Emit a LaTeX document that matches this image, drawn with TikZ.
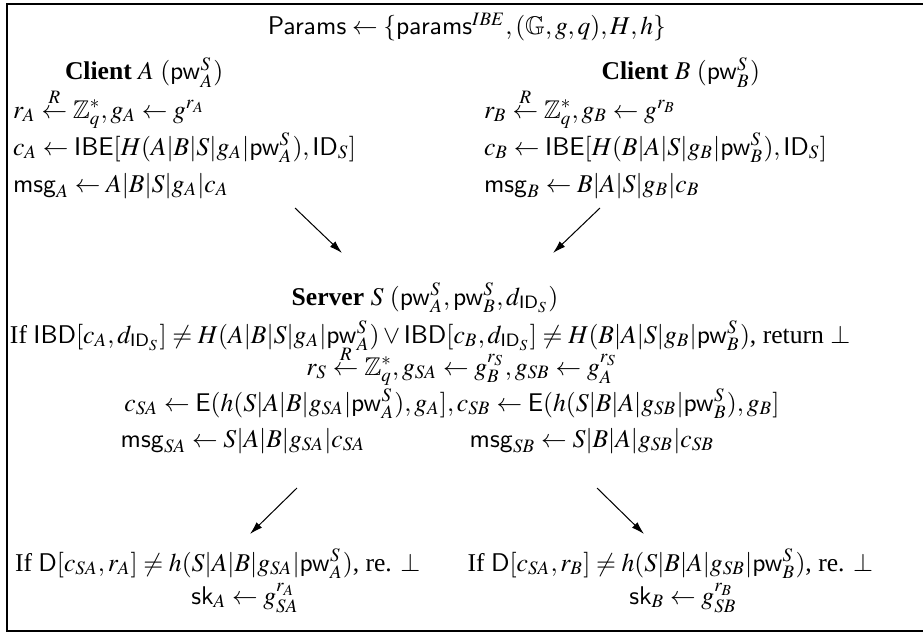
\documentclass[tikz,border=0pt]{standalone}
\usepackage{amsmath}
\usepackage{mathptmx}
\usepackage{amssymb}
\usepackage[scaled=0.92]{helvet}
\usepackage[no-math]{fontspec}
\setmainfont{Liberation Serif}
\usetikzlibrary{arrows.meta}
\newcommand{\mypw}{\mathsf{pw}}
\newcommand{\mymsg}{\mathsf{msg}}
\newcommand{\myID}{\mathsf{ID}}
\newcommand{\rgets}{\stackrel{R}{\leftarrow}}
\tikzset{
  txt/.style={inner sep=0pt, outer sep=0pt, font=\fontsize{10}{12}\selectfont},
  lw/.style={txt, anchor=base west},
  lc/.style={txt, anchor=base},
  le/.style={txt, anchor=base east},
  flow/.style={-{Latex[length=5pt,width=3pt]}, line width=0.4pt},
  frame/.style={line width=1.1pt}
}
\begin{document}
\begin{tikzpicture}[x=0.3906pt, y=-0.3906pt]
\useasboundingbox (0,0) rectangle (923,635);
\begin{scope}
\clip (0,0) rectangle (923,635);
\draw[frame] (7,4) rectangle (940,631);
\end{scope}
% header
\node[lc] (params) at (467,35) {$\mathsf{Params} \leftarrow \{\mathsf{params}^{IBE}, (\mathbb{G}, g, q), H, h\}$};
% client A
\node[lw] (cla) at (65,80) {\textbf{Client} $A$ $(\mypw_A^S)$};
\node[lw] (ra) at (13,118) {$r_A \rgets \mathbb{Z}_q^*, g_A \leftarrow g^{r_A}$};
\node[lw] (ca) at (13,155) {$c_A \leftarrow \mathsf{IBE}[H(A|B|S|g_A|\mypw_A^S), \myID_S]$};
\node[lw] (ma) at (13,192) {$\mymsg_A \leftarrow A|B|S|g_A|c_A$};
% client B
\node[le] (clb) at (760,80) {\textbf{Client} $B$ $(\mypw_B^S)$};
\node[lw] (rb) at (484,118) {$r_B \rgets \mathbb{Z}_q^*, g_B \leftarrow g^{r_B}$};
\node[lw] (cb) at (484,155) {$c_B \leftarrow \mathsf{IBE}[H(B|A|S|g_B|\mypw_B^S), \myID_S]$};
\node[lw] (mb) at (484,192) {$\mymsg_B \leftarrow B|A|S|g_B|c_B$};
% server
\node[lc] (srv) at (425,305) {\textbf{Server} $S$ $(\mypw_A^S, \mypw_B^S, d_{\myID_S})$};
\node[lw] (ibd) at (10,343) {If $\mathsf{IBD}[c_A, d_{\myID_S}] \neq H(A|B|S|g_A|\mypw_A^S) \vee \mathsf{IBD}[c_B, d_{\myID_S}] \neq H(B|A|S|g_B|\mypw_B^S)$, return $\perp$};
\node[lc] (rs) at (462,375) {$r_S \rgets \mathbb{Z}_q^*, g_{SA} \leftarrow g_B^{r_S}, g_{SB} \leftarrow g_A^{r_S}$};
\node[lc] (cs) at (452,411) {$c_{SA} \leftarrow \mathsf{E}(h(S|A|B|g_{SA}|\mypw_A^S), g_A], c_{SB} \leftarrow \mathsf{E}(h(S|B|A|g_{SB}|\mypw_B^S), g_B]$};
\node[lc] (msa) at (243,447) {$\mymsg_{SA} \leftarrow S|A|B|g_{SA}|c_{SA}$};
\node[lc] (msb) at (592,447) {$\mymsg_{SB} \leftarrow S|B|A|g_{SB}|c_{SB}$};
% results
\node[lw] (da) at (15,571) {If $\mathsf{D}[c_{SA}, r_A] \neq h(S|A|B|g_{SA}|\mypw_A^S)$, re. $\perp$};
\node[lc] (ska) at (245,604) {$\mathsf{sk}_A \leftarrow g_{SA}^{r_A}$};
\node[le] (db) at (873,571) {If $\mathsf{D}[c_{SA}, r_B] \neq h(S|B|A|g_{SB}|\mypw_B^S)$, re. $\perp$};
\node[lc] (skb) at (683,604) {$\mathsf{sk}_B \leftarrow g_{SB}^{r_B}$};
% arrow end points
\coordinate (a1s) at (295,208); \coordinate (a1e) at (342,253);
\coordinate (a2s) at (600,208); \coordinate (a2e) at (553,253);
\coordinate (a3s) at (297,488); \coordinate (a3e) at (250,534);
\coordinate (a4s) at (597,488); \coordinate (a4e) at (644,534);
\draw[flow] (a1s) -- (a1e);
\draw[flow] (a2s) -- (a2e);
\draw[flow] (a3s) -- (a3e);
\draw[flow] (a4s) -- (a4e);
\end{tikzpicture}
\end{document}
